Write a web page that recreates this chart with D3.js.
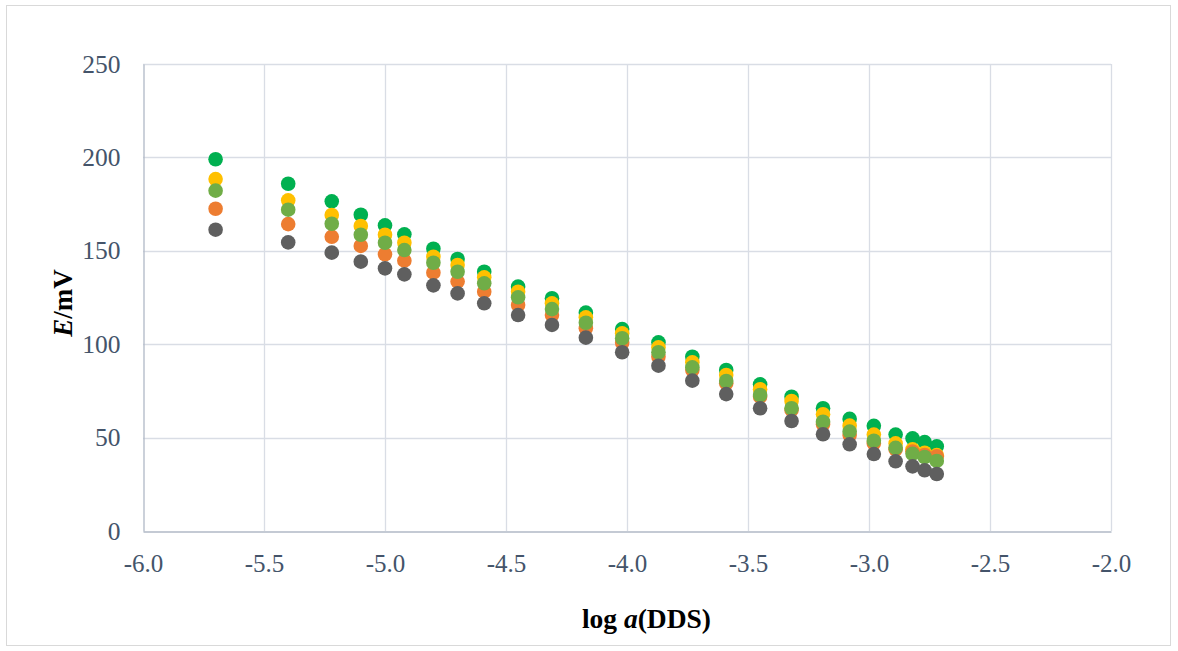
<!DOCTYPE html>
<html><head><meta charset="utf-8">
<script src="https://cdn.jsdelivr.net/npm/d3@7"></script>
<style>body{margin:0;background:#fff}svg{display:block}</style>
</head><body><svg id="c" width="1178" height="651"></svg>
<script>
const logA = [-5.70,-5.40,-5.22,-5.10,-5.00,-4.92,-4.80,-4.70,-4.59,-4.45,-4.31,-4.17,-4.02,-3.87,-3.73,-3.59,-3.45,-3.32,-3.19,-3.08,-2.98,-2.89,-2.82,-2.77,-2.72];
const seriesGreen  = [199.0,185.9,176.5,169.3,163.6,158.8,151.1,145.6,138.8,130.8,124.6,116.9,108.1,101.0,93.3,86.2,78.5,71.9,65.7,60.0,56.3,51.6,49.6,47.6,45.3];
const seriesYellow = [188.4,177.0,169.2,163.3,158.6,154.3,146.8,142.4,135.8,128.1,121.9,114.4,105.8,98.3,90.3,83.5,75.9,69.6,62.5,56.4,51.6,46.9,43.7,41.9,40.6];
const seriesOrange = [172.5,164.3,157.5,152.6,148.1,144.7,138.3,133.5,128.1,121.0,115.6,108.5,100.8,93.3,86.2,79.1,71.9,64.8,57.1,51.4,46.9,43.7,42.5,40.7,40.0];
const seriesLtGreen= [182.2,172.0,164.5,158.6,154.3,150.4,143.6,138.8,132.6,125.1,118.8,111.5,103.2,95.7,87.6,80.3,72.8,65.7,58.5,53.2,48.3,44.5,41.3,39.6,37.5];
const seriesGrey   = [161.3,154.5,149.0,144.2,140.6,137.4,131.5,127.2,121.9,115.6,110.3,103.5,95.7,88.5,80.5,73.3,65.7,58.9,51.8,46.4,41.2,37.3,34.6,32.5,30.5];
const xTicks = [-6.0,-5.5,-5.0,-4.5,-4.0,-3.5,-3.0,-2.5,-2.0];
const yTicks = [0,50,100,150,200,250];

const series = [
  {values: seriesGreen, color: "#00B050"},
  {values: seriesYellow, color: "#FFC000"},
  {values: seriesOrange, color: "#ED7D31"},
  {values: seriesLtGreen, color: "#70AD47"},
  {values: seriesGrey, color: "#5F5F5F"}
];

const svg = d3.select("#c");
const pL = 143, pR = 1111, pT = 64, pB = 531;
const x = d3.scaleLinear().domain([-6,-2]).range([pL,pR]);
const y = d3.scaleLinear().domain([0,250]).range([pB,pT]);

svg.append("rect").attr("x",6.5).attr("y",5.5).attr("width",1164).attr("height",640)
  .attr("fill","#fff").attr("stroke","#D9D9D9").attr("stroke-width",1);

const gridColor = "#D9DDE5";
svg.append("g").selectAll("line").data(yTicks.filter(d=>d>0)).join("line")
  .attr("x1",pL).attr("x2",pR).attr("y1",d=>Math.round(y(d))+0.5).attr("y2",d=>Math.round(y(d))+0.5)
  .attr("stroke",gridColor).attr("stroke-width",1.3);
svg.append("g").selectAll("line").data(xTicks.filter(d=>d>-6)).join("line")
  .attr("y1",pT).attr("y2",pB).attr("x1",d=>Math.round(x(d))+0.5).attr("x2",d=>Math.round(x(d))+0.5)
  .attr("stroke",gridColor).attr("stroke-width",1.3);

const axisColor = "#B0B9C6";
const font = "'Liberation Serif', 'Times New Roman', serif";
const xAxis = d3.axisBottom(x).tickValues(xTicks).tickFormat(d => d.toFixed(1)).tickSize(0).tickPadding(23);
const gx = svg.append("g").attr("transform",`translate(0,${Math.round(pB)+0.5})`).call(xAxis);
gx.select(".domain").attr("stroke",axisColor).attr("stroke-width",1.3);
gx.selectAll("text").attr("font-family",font).attr("font-size",25).attr("fill","#44546A");

const yAxis = d3.axisLeft(y).tickValues(yTicks).tickSize(0).tickPadding(23);
const gy = svg.append("g").attr("transform",`translate(${pL+0.5},0)`).call(yAxis);
gy.select(".domain").attr("stroke",axisColor).attr("stroke-width",1.3);
gy.selectAll("text").attr("font-family",font).attr("font-size",25.5).attr("fill","#44546A");

series.forEach(s => {
  svg.append("g").selectAll("circle").data(s.values.map((v,i)=>[logA[i],v])).join("circle")
    .attr("cx",d=>x(d[0])).attr("cy",d=>y(d[1])).attr("r",7.3).attr("fill",s.color);
});

const yt = svg.append("text").attr("transform","translate(72,303) rotate(-90)")
  .attr("text-anchor","middle").attr("font-family",font)
  .attr("font-size",27).attr("font-weight","bold").attr("fill","#000");
yt.append("tspan").attr("font-style","italic").text("E");
yt.append("tspan").text("/mV");

const xt = svg.append("text").attr("x",646.5).attr("y",628)
  .attr("text-anchor","middle").attr("font-family",font)
  .attr("font-size",27.5).attr("font-weight","bold").attr("fill","#000");
xt.append("tspan").text("log ");
xt.append("tspan").attr("font-style","italic").text("a");
xt.append("tspan").text("(DDS)");
</script></body></html>
